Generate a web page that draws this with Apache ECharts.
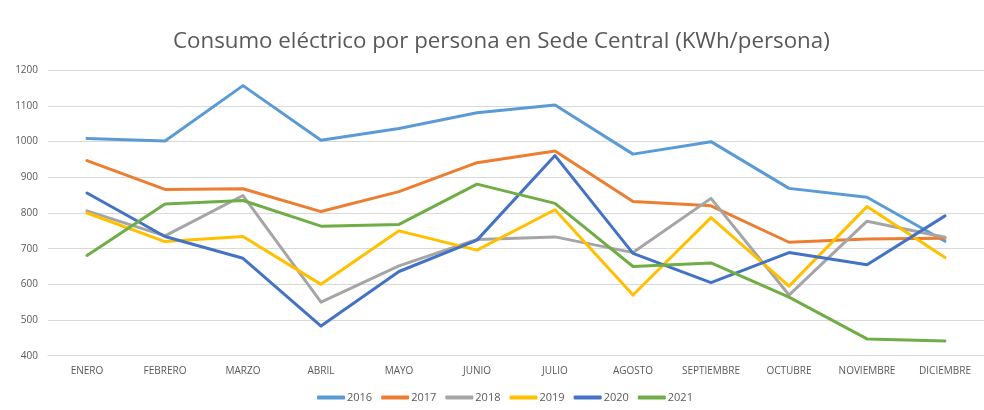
<!DOCTYPE html>
<html><head><meta charset="utf-8">
<script src="https://cdn.jsdelivr.net/npm/echarts@6/dist/echarts.min.js"></script>
<style>html,body{margin:0;padding:0;background:#fff}#c{width:984px;height:410px}</style>
</head><body><div id="c"></div>
<script>
const categories = ["ENERO","FEBRERO","MARZO","ABRIL","MAYO","JUNIO","JULIO","AGOSTO","SEPTIEMBRE","OCTUBRE","NOVIEMBRE","DICIEMBRE"];
const s2016 = [1009,1002,1157,1004,1037,1081,1103,965,1000,869,844,721];
const s2017 = [947,866,868,804,860,941,974,832,820,718,727,729];
const s2018 = [806,736,849,550,652,726,733,689,841,570,777,732];
const s2019 = [800,720,734,600,750,696,809,570,787,595,818,675];
const s2020 = [856,734,673,483,636,724,961,687,605,689,655,792];
const s2021 = [681,825,835,763,768,881,827,650,660,564,447,441];
const seriesNames = ["2016","2017","2018","2019","2020","2021"];
const seriesData = [s2016,s2017,s2018,s2019,s2020,s2021];
const colors = ["#5B9BD5","#ED7D31","#A5A5A5","#FFC000","#4472C4","#70AD47"];
const yTicks = {min:400, max:1200, interval:100};

const chart = echarts.init(document.getElementById('c'));
chart.setOption({
  animation:false,
  title:{text:"Consumo eléctrico por persona en Sede Central (KWh/persona)", left:168, top:26,
    textStyle:{fontFamily:'Open Sans', fontWeight:'normal', fontSize:22.3, color:'#595959'}},
  grid:{left:48, top:70.3, width:939, height:285.4, containLabel:false},
  legend:{bottom:2, left:312, itemWidth:28, itemHeight:4, itemGap:9, icon:'roundRect',
    textStyle:{fontFamily:'Open Sans', fontSize:11, color:'#595959', padding:[0,0,0,-3]},
    data:seriesNames},
  xAxis:{type:'category', data:categories, boundaryGap:true,
    axisLine:{lineStyle:{color:'#d9d9d9'}}, axisTick:{show:false},
    axisLabel:{fontFamily:'Open Sans', fontSize:10, color:'#595959', margin:10, interval:0}},
  yAxis:{type:'value', min:yTicks.min, max:yTicks.max, interval:yTicks.interval,
    axisLine:{show:false}, axisTick:{show:false},
    splitLine:{lineStyle:{color:'#d9d9d9', width:1}},
    axisLabel:{fontFamily:'Open Sans', fontSize:10, color:'#595959', margin:10, formatter:v=>String(v)}},
  color:colors,
  series: seriesData.map((d,i)=>({name:seriesNames[i], type:'line', data:d, symbol:'none',
    lineStyle:{width:3, color:colors[i], cap:'round', join:'round'}, itemStyle:{color:colors[i]}}))
});
</script></body></html>
